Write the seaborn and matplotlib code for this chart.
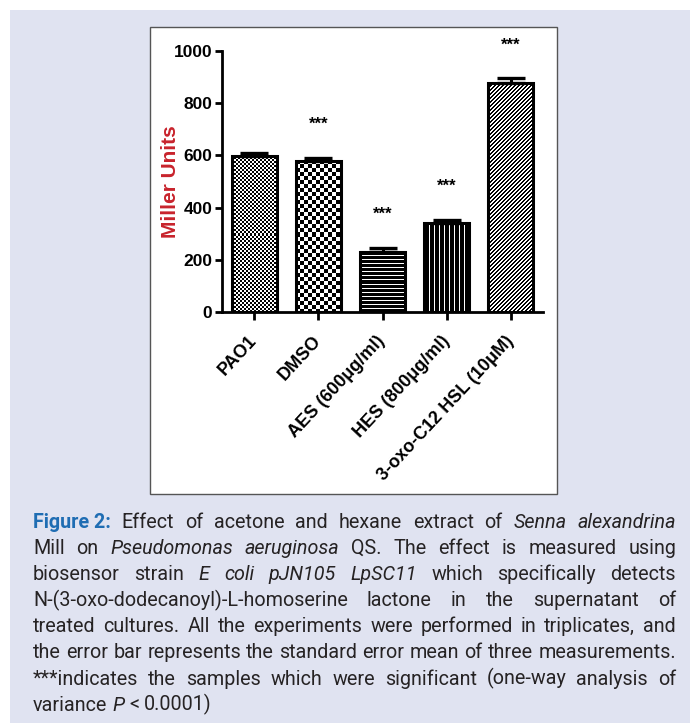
import numpy as np
import pandas as pd
import matplotlib
matplotlib.use("Agg")
import matplotlib.pyplot as plt
from matplotlib.patches import Rectangle
import seaborn as sns

# ---------------- data ----------------
categories = ["PAO1", "DMSO", "AES (600\u03bcg/ml)", "HES (800\u03bcg/ml)",
              "3-oxo-C12 HSL (10\u03bcM)"]
miller_units = [598, 580, 230, 340, 877]
sem = [10, 10, 15, 14, 18]
significance = ["", "***", "***", "***", "***"]
y_ticks = [0, 200, 400, 600, 800, 1000]
y_label = "Miller Units"

caption_lines = [
    [("Figure\u00a02:", "bold"), (" Effect of acetone and hexane extract of ", "normal"),
     ("Senna alexandrina", "italic")],
    [("Mill on ", "normal"), ("Pseudomonas aeruginosa", "italic"),
     (" QS. The effect is measured using", "normal")],
    [("biosensor strain ", "normal"), ("E coli pJN105 LpSC11", "italic"),
     (" which specifically detects", "normal")],
    [("N-(3-oxo-dodecanoyl)-L-homoserine lactone in the supernatant of", "normal")],
    [("treated cultures. All the experiments were performed in triplicates, and", "normal")],
    [("the error bar represents the standard error mean of three measurements.", "normal")],
    [("***indicates the samples which were significant (one-way analysis of", "normal")],
    [("variance ", "normal"), ("P", "italic"), (" < 0.0001)", "normal")],
]

# ---------------- style ----------------
W, H, DPI = 691, 723, 100
LAV = "#e0e3f1"
RED = "#c8232c"
BLUE = "#1f6db3"
CAP_COLOR = "#262324"
CHART_FONT = ["Liberation Sans", "DejaVu Sans"]
CAP_FONT = ["Roboto", "DejaVu Sans"]

sns.set_style("ticks")
plt.rcParams["font.family"] = CHART_FONT


def fx(px):
    return px / W


def fy(py):
    return 1 - py / H


fig = plt.figure(figsize=(W / DPI, H / DPI), dpi=DPI, facecolor="white")

# lavender page background and white chart panel
fig.add_artist(Rectangle((fx(10), 0), fx(690) - fx(10), fy(10), transform=fig.transFigure,
                         facecolor=LAV, edgecolor="none", zorder=-10))
fig.add_artist(Rectangle((fx(150), fy(494)), fx(557) - fx(150), fy(27) - fy(494),
                         transform=fig.transFigure, facecolor="white",
                         edgecolor="#555555", linewidth=1.0, zorder=-5))

ax = fig.add_axes([fx(222), fy(312), fx(543) - fx(222), fy(51) - fy(312)])
ax.patch.set_alpha(0)

df = pd.DataFrame({"category": categories, "miller": miller_units})
sns.barplot(data=df, x="category", y="miller", ax=ax, width=0.7, color="white",
            edgecolor="black", linewidth=2.2, errorbar=None, saturation=1)
ax.set_xlim(-0.5, 4.5)
ax.set_ylim(0, 1000)

# fill patterns (1 = white, 0 = black)
patterns = [
    lambda i, j: ((i // 2 + j // 2) % 2).astype(float),
    lambda i, j: ((i // 4 + j // 4) % 2).astype(float),
    lambda i, j: (i % 4 == 0).astype(float),
    lambda i, j: (j % 5 == 0).astype(float),
    lambda i, j: ((i + j) % 4 >= 2).astype(float),
]
bars = list(ax.patches)
for k, p in enumerate(bars):
    x0, w, h = p.get_x(), p.get_width(), p.get_height()
    px0, py0 = ax.transData.transform((x0, 0))
    px1, py1 = ax.transData.transform((x0 + w, h))
    nw = max(int(round(px1 - px0)), 1)
    nh = max(int(round(py1 - py0)), 1)
    ii, jj = np.mgrid[0:nh, 0:nw]
    arr = patterns[k](ii, jj)
    im = ax.imshow(arr, extent=[x0, x0 + w, 0, h], origin="upper", cmap="gray",
                   vmin=0, vmax=1, interpolation="nearest", aspect="auto",
                   zorder=p.get_zorder() - 0.01)
    im.set_clip_path(p)
    p.set_facecolor("none")

xs = [p.get_x() + p.get_width() / 2 for p in bars]
ax.errorbar(xs, miller_units, yerr=[np.zeros(len(sem)), sem], fmt="none",
            ecolor="black", elinewidth=2.2, capsize=10, capthick=2.4, zorder=3)

for x, v, e, s in zip(xs, miller_units, sem, significance):
    if s:
        ax.annotate(s, (x, v + e), xytext=(0, 24), textcoords="offset points",
                    ha="center", va="center", fontsize=12, fontweight="bold",
                    color="black", annotation_clip=False)

ax.set_xlim(-0.5, 4.5)
ax.set_ylim(0, 1000)
sns.despine(ax=ax)
for sp in ("left", "bottom"):
    ax.spines[sp].set_linewidth(2)
    ax.spines[sp].set_color("black")

ax.set_yticks(y_ticks)
ax.set_yticklabels([str(t) for t in y_ticks], fontsize=12.5, fontweight="bold")
ax.tick_params(axis="y", direction="out", length=5, width=2, pad=2, colors="black")
ax.set_xticks(xs)
ax.set_xticklabels(categories, rotation=47, ha="right", va="center",
                   rotation_mode="anchor", fontsize=13, fontweight="bold")
ax.tick_params(axis="x", direction="out", length=6, width=2, pad=13, colors="black")
ax.set_xlabel("")
ax.set_ylabel(y_label, fontsize=15, fontweight="bold", color=RED)
ax.yaxis.set_label_coords(-0.13, 0.5)

# ---------------- caption (justified) ----------------
renderer = fig.canvas.get_renderer()


def style_kw(st):
    if st == "bold":
        return dict(fontweight="bold", color=BLUE)
    if st == "italic":
        return dict(fontstyle="italic", color=CAP_COLOR)
    return dict(color=CAP_COLOR)


def measure(text, size, st):
    t = fig.text(0, 0, text, fontsize=size, family=CAP_FONT, **style_kw(st))
    wdt = t.get_window_extent(renderer).width
    t.remove()
    return wdt


def split_words(line):
    words, cur = [], []
    for text, st in line:
        for c in text:
            if c == " ":
                if cur:
                    words.append(cur)
                    cur = []
            else:
                cur.append((c, st))
    if cur:
        words.append(cur)
    out = []
    for wd in words:
        runs = []
        for c, st in wd:
            c = " " if c == "\u00a0" else c
            if runs and runs[-1][1] == st:
                runs[-1][0] += c
            else:
                runs.append([c, st])
        out.append(runs)
    return out


cap_left, cap_right = 33, 676
target = cap_right - cap_left
word_lines = [split_words(l) for l in caption_lines]


def line_natural(words, size):
    sp = measure("a a", size, "normal") - measure("aa", size, "normal")
    ws = [sum(measure(t, size, st) for t, st in wd) for wd in words]
    return sum(ws) + sp * (len(words) - 1)


base = 13.0
nat = max(line_natural(w, base) for w in word_lines[:-1])
cap_size = base * (target - 3) / nat

space_w = measure("a a", cap_size, "normal") - measure("aa", cap_size, "normal")
baseline0, lead = 528, 26.1
for li, words in enumerate(word_lines):
    widths = [[measure(t, cap_size, st) for t, st in wd] for wd in words]
    totals = [sum(w) for w in widths]
    if li < len(word_lines) - 1 and len(words) > 1:
        gap = (target - sum(totals)) / (len(words) - 1)
    else:
        gap = space_w
    x = cap_left
    yb = baseline0 + lead * li
    for wd, wl in zip(words, widths):
        xx = x
        for (t, st), w in zip(wd, wl):
            fig.text(fx(xx), fy(yb), t, fontsize=cap_size, family=CAP_FONT,
                     va="baseline", ha="left", **style_kw(st))
            xx += w
        x += sum(wl) + gap

fig.savefig("out.png", dpi=DPI, facecolor="white")
